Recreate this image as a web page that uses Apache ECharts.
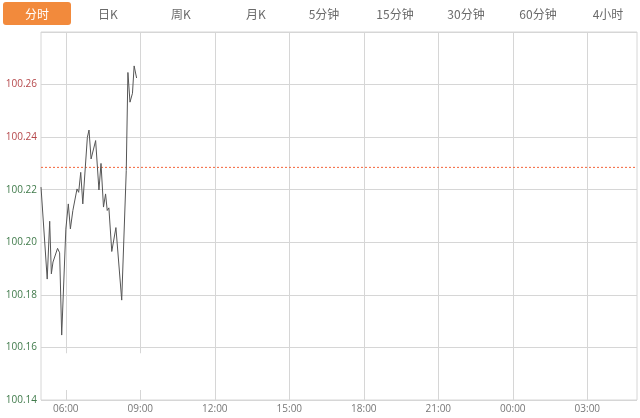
<!DOCTYPE html>
<html>
<head>
<meta charset="utf-8">
<script src="https://cdn.jsdelivr.net/npm/echarts@6/dist/echarts.min.js"></script>
<style>
html,body{margin:0;padding:0;background:#fff;}
#main{width:640px;height:418px;}
</style>
</head>
<body>
<div id="main"></div>
<script>
// ---- data ----
var tabs = ['分时', '日K', '周K', '月K', '5分钟', '15分钟', '30分钟', '60分钟', '4小时'];
var times = ['05:00','05:15','05:21','05:25','05:29','05:33','05:40','05:45','05:50','06:00',
             '06:06','06:11','06:17','06:21','06:27','06:31','06:36','06:41','06:52','06:56',
             '07:01','07:12','07:20','07:25','07:31','07:36','07:40','07:44','07:51','08:01',
             '08:15','08:26','08:30','08:35','08:41','08:45','08:51'];
var prices = [100.221,100.186,100.208,100.188,100.1925,100.193,100.1977,100.196,100.1647,100.205,
              100.2146,100.2051,100.2121,100.2124,100.2203,100.219,100.2266,100.2146,100.2399,100.2427,
              100.2317,100.2387,100.2199,100.230,100.2134,100.2184,100.2121,100.2131,100.1965,100.2056,
              100.178,100.2273,100.2646,100.2533,100.2567,100.2671,100.2625];
var prevClose = 100.2285;
var xTickLabels = ['06:00','09:00','12:00','15:00','18:00','21:00','00:00','03:00'];
var yMin = 100.14, yMax = 100.28, yStep = 0.02;

// ---- build axis ----
var startMin = 5 * 60;
function pad(n){ return (n < 10 ? '0' : '') + n; }
var cats = [];
for (var i = 0; i <= 1440; i++) {
  var m = (startMin + i) % 1440;
  cats.push(pad(Math.floor(m / 60)) + ':' + pad(m % 60));
}
function toIndex(t) {
  var p = t.split(':');
  var m = (+p[0]) * 60 + (+p[1]) - startMin;
  if (m < 0) m += 1440;
  return m;
}
function isTick(idx) {
  return idx > 0 && idx < 1440 && xTickLabels.indexOf(cats[idx]) >= 0;
}
var seriesData = times.map(function (t, k) { return [toIndex(t), prices[k]]; });
var refData = [[0, prevClose], [cats.length - 1, prevClose]];

var chart = echarts.init(document.getElementById('main'));

var tabGraphics = [];
var tabCenters = [37, 108, 181, 256, 324, 395, 466, 538, 608];
tabGraphics.push({
  type: 'rect', left: 3, top: 2, shape: { width: 68, height: 23, r: 3 },
  style: { fill: '#f28a3c' }, silent: true
});
tabs.forEach(function (t, k) {
  tabGraphics.push({
    type: 'text', x: tabCenters[k], y: 14,
    style: {
      text: t, fill: k === 0 ? '#ffffff' : '#6a6a6a',
      font: '12px "Noto Sans CJK SC", "Microsoft YaHei", sans-serif',
      align: 'center', verticalAlign: 'middle'
    }, silent: true
  });
});

var labelFont = '"Open Sans", "Liberation Sans", sans-serif';

chart.setOption({
  animation: false,
  graphic: tabGraphics,
  grid: { left: 41, right: 3, top: 32, bottom: 18, show: true, borderColor: '#d6d6d6', borderWidth: 1, backgroundColor: 'transparent' },
  xAxis: {
    type: 'category',
    data: cats,
    boundaryGap: false,
    axisLine: { show: false },
    axisTick: { show: false },
    axisLabel: {
      interval: function (idx) { return isTick(idx); },
      color: '#777', fontSize: 10, margin: 4,
      fontFamily: labelFont
    },
    splitLine: {
      show: true,
      interval: function (idx) { return isTick(idx); },
      lineStyle: { color: '#d6d6d6', width: 1 }
    }
  },
  yAxis: {
    type: 'value',
    min: yMin, max: yMax, interval: yStep,
    axisLine: { show: false },
    axisTick: { show: false },
    axisLabel: {
      showMaxLabel: false,
      fontSize: 10,
      margin: 4,
      padding: [0, 0, 7, 0],
      fontFamily: labelFont,
      formatter: function (v) { return v.toFixed(2); },
      color: function (v) { return (+v) > prevClose ? '#b5474a' : '#3f7a4a'; }
    },
    splitLine: { show: true, lineStyle: { color: '#d6d6d6', width: 1 } }
  },
  series: [{
    type: 'line',
    data: refData,
    showSymbol: false,
    symbol: 'none',
    silent: true,
    color: '#f4643a',
    lineStyle: { color: '#f4643a', type: [2, 2], width: 1 },
    z: 3
  }, {
    type: 'line',
    data: seriesData,
    showSymbol: false,
    symbol: 'none',
    color: '#555',
    lineStyle: { color: '#555', width: 1 },
    z: 5,
    markArea: {
      silent: true,
      label: { show: false },
      itemStyle: { color: '#ffffff', opacity: 1 },
      data: [[{ xAxis: 5, yAxis: 100.1438 }, { xAxis: 300, yAxis: 100.1578 }]]
    }
  }]
});
</script>
</body>
</html>
